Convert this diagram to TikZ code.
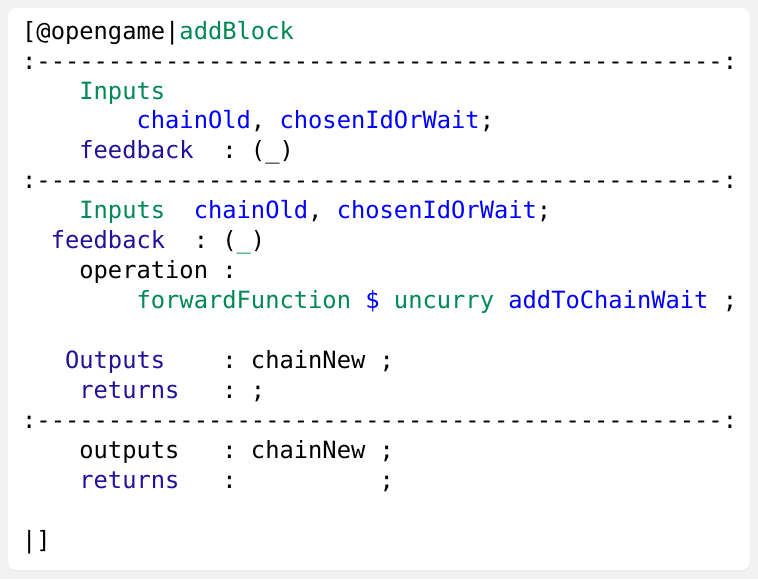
\documentclass[tikz,border=0pt]{standalone}
\usepackage{fontspec}
\setmonofont{DejaVu Sans Mono}
\definecolor{cgreen}{HTML}{008855}
\definecolor{cblue}{HTML}{0000FF}
\definecolor{cpurple}{HTML}{221199}
\definecolor{cback}{HTML}{F2F2F2}
\begin{document}
\begin{tikzpicture}[x=1pt,y=-1pt]
    % Node styles
    \tikzset{code/.style={inner sep=0pt, anchor=mid west, font=\ttfamily\fontsize{23.75}{30}\selectfont, text=black}}
    \newcommand\cx[1]{22+14.3*#1}
    \newcommand\ry[1]{37+29.94*#1}

    \fill [cback] (0,0) rectangle (758,579);
    \fill [black!8, rounded corners=8pt] (8,9.5) rectangle (750,571.5);
    \fill [white, rounded corners=8pt] (8,8) rectangle (749.5,570);

    \node [code] (head) at ({\cx{0}},{\ry{0}}) {[@opengame|\textcolor{cgreen}{addBlock}};
    \node [code] (sepA) at ({\cx{0}},{\ry{1}}) {:------------------------------------------------:};
    \node [code, text=cgreen] (inA) at ({\cx{4}},{\ry{2}}) {Inputs};
    \node [code, text=cblue] (inAvars) at ({\cx{8}},{\ry{3}}) {chainOld\textcolor{black}{,} chosenIdOrWait\textcolor{black}{;}};
    \node [code, text=cpurple] (fbA) at ({\cx{4}},{\ry{4}}) {feedback};
    \node [code] (fbAval) at ({\cx{14}},{\ry{4}}) {: (\_)};
    \node [code] (sepB) at ({\cx{0}},{\ry{5}}) {:------------------------------------------------:};
    \node [code, text=cgreen] (inB) at ({\cx{4}},{\ry{6}}) {Inputs};
    \node [code, text=cblue] (inBvars) at ({\cx{12}},{\ry{6}}) {chainOld\textcolor{black}{,} chosenIdOrWait\textcolor{black}{;}};
    \node [code, text=cpurple] (fbB) at ({\cx{2}},{\ry{7}}) {feedback};
    \node [code] (fbBval) at ({\cx{12}},{\ry{7}}) {: (\textcolor{cgreen}{\_})};
    \node [code] (op) at ({\cx{4}},{\ry{8}}) {operation :};
    \node [code, text=cgreen] (fwd) at ({\cx{8}},{\ry{9}}) {forwardFunction \textcolor{cblue}{\$} uncurry \textcolor{cblue}{addToChainWait} \textcolor{black}{;}};
    \node [code, text=cpurple] (outB) at ({\cx{3}},{\ry{11}}) {Outputs};
    \node [code] (outBval) at ({\cx{14}},{\ry{11}}) {: chainNew ;};
    \node [code, text=cpurple] (retB) at ({\cx{4}},{\ry{12}}) {returns};
    \node [code] (retBval) at ({\cx{14}},{\ry{12}}) {: ;};
    \node [code] (sepC) at ({\cx{0}},{\ry{13}}) {:------------------------------------------------:};
    \node [code] (outC) at ({\cx{4}},{\ry{14}}) {outputs};
    \node [code] (outCval) at ({\cx{14}},{\ry{14}}) {: chainNew ;};
    \node [code, text=cpurple] (retC) at ({\cx{4}},{\ry{15}}) {returns};
    \node [code] (retCcol) at ({\cx{14}},{\ry{15}}) {:};
    \node [code] (retCsemi) at ({\cx{25}},{\ry{15}}) {;};
    \node [code] (tail) at ({\cx{0}},{\ry{17}}) {|]};
\end{tikzpicture}
\end{document}
